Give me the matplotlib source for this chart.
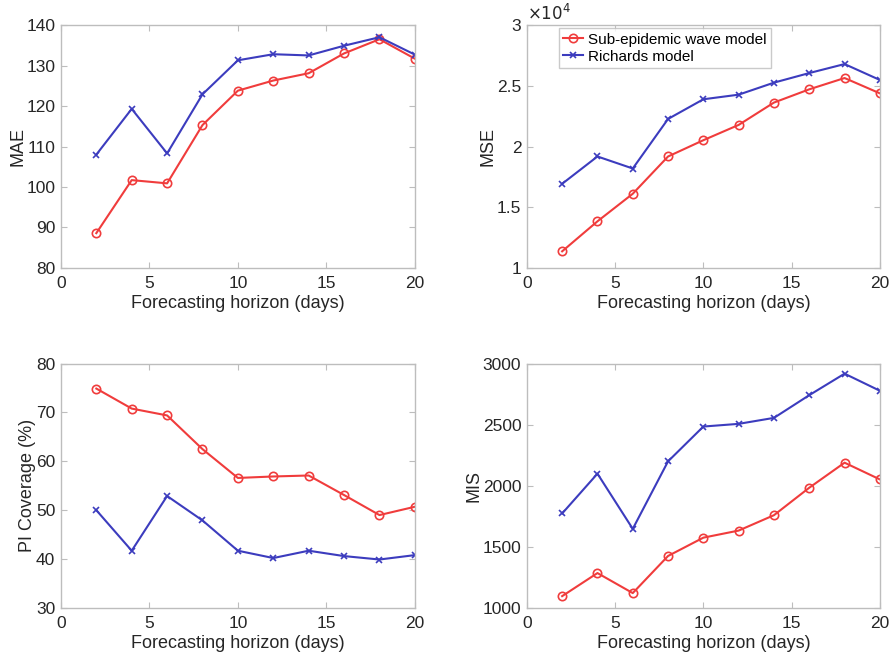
import matplotlib
matplotlib.use("Agg")
import matplotlib.pyplot as plt
import numpy as np

plt.rcParams["font.family"] = ["Liberation Sans", "DejaVu Sans"]

horizon = [2, 4, 6, 8, 10, 12, 14, 16, 18, 20]

mae_sub = [88.6, 101.7, 100.9, 115.3, 123.8, 126.3, 128.1, 133.0, 136.5, 131.7]
mae_rich = [108.0, 119.3, 108.3, 122.9, 131.3, 132.8, 132.5, 134.9, 137.0, 132.7]

mse_sub = [1.137e4, 1.384e4, 1.611e4, 1.918e4, 2.052e4, 2.178e4, 2.362e4, 2.471e4, 2.564e4, 2.438e4]
mse_rich = [1.693e4, 1.918e4, 1.819e4, 2.227e4, 2.389e4, 2.427e4, 2.526e4, 2.605e4, 2.679e4, 2.548e4]

pi_sub = [74.9, 70.8, 69.4, 62.5, 56.6, 56.9, 57.1, 53.1, 49.0, 50.7]
pi_rich = [50.0, 41.7, 52.9, 47.9, 41.7, 40.2, 41.7, 40.6, 39.9, 40.8]

mis_sub = [1096, 1285, 1121, 1425, 1575, 1633, 1759, 1984, 2189, 2052]
mis_rich = [1773, 2099, 1647, 2200, 2485, 2507, 2556, 2742, 2918, 2778]

RED = "#f03c3c"
BLUE = "#3c3cbe"
FRAME = "#bdbdbd"
TEXT = "#262626"

fig = plt.figure(figsize=(8.96, 6.6), dpi=100)
positions = [
    [0.068, 0.594, 0.395, 0.368],
    [0.588, 0.594, 0.394, 0.368],
    [0.068, 0.079, 0.395, 0.370],
    [0.588, 0.079, 0.394, 0.370],
]

panels = [
    ("MAE", mae_sub, mae_rich, (80, 140), np.arange(80, 141, 10)),
    ("MSE", mse_sub, mse_rich, (1e4, 3e4), np.arange(1e4, 3.01e4, 0.5e4)),
    ("PI Coverage (%)", pi_sub, pi_rich, (30, 80), np.arange(30, 81, 10)),
    ("MIS", mis_sub, mis_rich, (1000, 3000), np.arange(1000, 3001, 500)),
]

axes = []
for pos, (ylabel, sub, rich, ylim, yticks) in zip(positions, panels):
    ax = fig.add_axes(pos)
    ax.plot(horizon, sub, color=RED, lw=1.5, marker="o", ms=6, mfc="none",
            mew=1.2, label="Sub-epidemic wave model")
    ax.plot(horizon, rich, color=BLUE, lw=1.5, marker="x", ms=5, mew=1.2,
            label="Richards model")
    ax.set_xlim(0, 20)
    ax.set_ylim(*ylim)
    ax.set_xticks([0, 5, 10, 15, 20])
    ax.set_yticks(yticks)
    ax.set_xlabel("Forecasting horizon (days)", fontsize=13, color=TEXT, labelpad=3)
    ax.set_ylabel(ylabel, fontsize=13, color=TEXT, labelpad=0)
    ax.tick_params(direction="in", top=True, right=True, length=4,
                   color=FRAME, labelsize=12.5, labelcolor=TEXT)
    ax.tick_params(axis="x", pad=6)
    ax.tick_params(axis="y", pad=4)
    for sp in ax.spines.values():
        sp.set_color(FRAME)
        sp.set_linewidth(1.0)
    axes.append(ax)

# MSE axis uses a x10^4 multiplier like MATLAB
ax_mse = axes[1]
ax_mse.set_yticklabels(["1", "1.5", "2", "2.5", "3"])
ax_mse.text(0.0, 1.01, r"$\times10^{4}$", transform=ax_mse.transAxes,
            fontsize=12, color=TEXT, ha="left", va="bottom")

leg = ax_mse.legend(loc="upper left", bbox_to_anchor=(0.09, 0.988),
                    fontsize=11, frameon=True, fancybox=False,
                    handlelength=1.3, handletextpad=0.3, borderpad=0.3,
                    labelspacing=0.2, borderaxespad=0.0)
leg.get_frame().set_edgecolor(FRAME)
leg.get_frame().set_linewidth(1.0)

fig.savefig("out.png", dpi=100)
